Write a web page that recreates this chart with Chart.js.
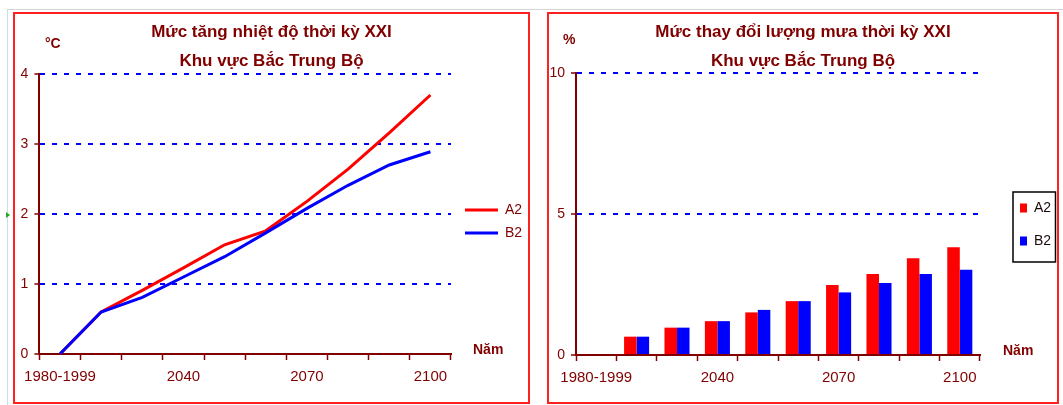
<!DOCTYPE html>
<html>
<head>
<meta charset="utf-8">
<title>Bắc Trung Bộ – nhiệt độ và lượng mưa</title>
<script src="https://cdn.jsdelivr.net/npm/chart.js@4.4.1/dist/chart.umd.min.js"></script>
<style>
  html, body { margin: 0; padding: 0; background: #fff; }
  body { width: 1063px; height: 405px; position: relative; overflow: hidden;
         font-family: 'Liberation Sans Narrow', 'Arial Narrow', 'Liberation Sans', Arial, sans-serif; }
  .frame { position: absolute; left: 7px; top: 9px; width: 1056px; height: 396px;
           border-top: 1px solid #d4d4d4; border-left: 1px solid #c4e4e4; }
  .panel { position: absolute; top: 12px; height: 388px; border: 2px solid #ff2020; background: #fff; }
  #p1 { left: 13px; width: 513px; }
  #p2 { left: 547px; width: 508px; }
  .panel canvas { position: absolute; left: 0; top: 0; }
  .lbl { position: absolute; color: #800000; font-weight: bold; white-space: nowrap; line-height: 1; font-size: 14px; }
  .mark { position: absolute; left: 6px; top: 212px; width: 0; height: 0;
          border-left: 4px solid #22aa22; border-top: 3px solid transparent; border-bottom: 3px solid transparent; }
</style>
</head>
<body>
<div class="frame"></div>
<div class="mark"></div>
<div class="panel" id="p1"><canvas id="tempChart" width="513" height="388"></canvas></div>
<div class="panel" id="p2"><canvas id="rainChart" width="508" height="388"></canvas></div>
<span class="lbl" style="left:45px;top:36px;">°C</span>
<span class="lbl" style="left:563px;top:32px;">%</span>
<span class="lbl" style="left:473px;top:342px;">Năm</span>
<span class="lbl" style="left:1003px;top:343px;">Năm</span>

<script>
// Decades of the scenario period (first one is the 1980-1999 baseline)
const years = ['1980-1999', '2020', '2030', '2040', '2050', '2060', '2070', '2080', '2090', '2100'];
const shownYears = ['1980-1999', '2040', '2070', '2100'];
const seriesNames = ['A2', 'B2'];

// Temperature rise (°C)
const tempA2 = [0, 0.6, 0.91, 1.23, 1.56, 1.76, 2.18, 2.64, 3.16, 3.7];
const tempB2 = [0, 0.6, 0.81, 1.1, 1.39, 1.73, 2.08, 2.41, 2.7, 2.89];

// Rainfall change (%)
const rainA2 = [0, 0.65, 0.97, 1.2, 1.51, 1.91, 2.48, 2.87, 3.43, 3.82];
const rainB2 = [0, 0.65, 0.97, 1.2, 1.6, 1.91, 2.22, 2.55, 2.87, 3.02];

const tempMax = 4, tempStep = 1;
const rainMax = 10, rainStep = 5;

const FONT = "'Liberation Sans Narrow', 'Arial Narrow', 'Liberation Sans', Arial, sans-serif";
const DARK = '#800000';
const RED = '#ff0000';
const BLUE = '#0000ff';

function xAxis(height) {
  return {
    type: 'category',
    offset: true,
    grid: { offset: true, drawOnChartArea: false, drawTicks: true, tickLength: 6,
            color: DARK, tickColor: DARK, tickWidth: 1.5 },
    border: { display: true, color: DARK, width: 2 },
    ticks: {
      autoSkip: false, maxRotation: 0, minRotation: 0, padding: 8,
      color: DARK, font: { family: FONT, size: 15 },
      callback(value) {
        const lab = this.getLabelForValue(value);
        return shownYears.includes(lab) ? lab : '';
      }
    },
    afterFit(s) { s.height = height; }
  };
}

function yAxis(max, step, width) {
  return {
    min: 0, max: max,
    ticks: { stepSize: step, color: DARK, padding: 6, font: { family: FONT, size: 14 } },
    grid: {
      color: c => (c.tick && c.tick.value === 0) ? 'rgba(0,0,0,0)' : BLUE,
      lineWidth: 2, drawTicks: true, tickLength: 5, tickColor: DARK, tickWidth: 1.5
    },
    border: { display: true, color: DARK, width: 2, dash: [5, 7] },
    afterFit(s) { s.width = width; }
  };
}

// empty right-hand scale that keeps a gap between the plot and the legend
function gapAxis(width) {
  return {
    type: 'linear', position: 'right', display: true,
    grid: { display: false, drawTicks: false }, border: { display: false },
    ticks: { display: false },
    afterFit(s) { s.width = width; }
  };
}

function titleOpts(lines, bottomPad) {
  return {
    display: true, text: lines, color: DARK,
    font: { family: FONT, size: 17, weight: 'bold', lineHeight: '29px' },
    padding: { top: 4, bottom: bottomPad }
  };
}

// frame drawn around the legend entries
const legendFrame = {
  id: 'legendFrame',
  afterDraw(chart) {
    const hb = chart.legend && chart.legend.legendHitBoxes;
    if (!hb || hb.length < 2) return;
    const ctx = chart.ctx;
    const left = hb[0].left - 7;
    const top = hb[0].top - 9;
    const right = chart.width - 1.5;
    const bottom = hb[hb.length - 1].top + hb[hb.length - 1].height + 14;
    ctx.save();
    ctx.strokeStyle = '#000';
    ctx.lineWidth = 1.5;
    ctx.strokeRect(left, top, right - left, bottom - top);
    ctx.restore();
  }
};

new Chart(document.getElementById('tempChart'), {
  type: 'line',
  data: {
    labels: years,
    datasets: [
      { label: seriesNames[0], data: tempA2, borderColor: RED, backgroundColor: RED,
        borderWidth: 3, pointRadius: 0, tension: 0, order: 2, xAxisID: 'x', yAxisID: 'y' },
      { label: seriesNames[1], data: tempB2, borderColor: BLUE, backgroundColor: BLUE,
        borderWidth: 3, pointRadius: 0, tension: 0, order: 1, xAxisID: 'x', yAxisID: 'y' }
    ]
  },
  options: {
    responsive: false, animation: false,
    layout: { padding: 0 },
    scales: { x: xAxis(48), y: yAxis(tempMax, tempStep, 22), gap: gapAxis(5) },
    plugins: {
      title: titleOpts(['Mức tăng nhiệt độ thời kỳ XXI', 'Khu vực Bắc Trung Bộ'], -2),
      tooltip: { enabled: false },
      legend: {
        position: 'right', fullSize: false, align: 'center', maxWidth: 72,
        title: { display: true, text: '', padding: 0, font: { size: 10, lineHeight: '15px' } },
        labels: {
          boxWidth: 33, boxHeight: 3, padding: 9, color: DARK,
          font: { family: FONT, size: 14 },
          sort: (a, b) => a.datasetIndex - b.datasetIndex,
          generateLabels(chart) {
            return Chart.defaults.plugins.legend.labels.generateLabels(chart)
              .map(l => Object.assign(l, { fillStyle: l.strokeStyle, lineWidth: 0 }));
          }
        }
      }
    }
  }
});

new Chart(document.getElementById('rainChart'), {
  type: 'bar',
  data: {
    labels: years,
    datasets: [
      { label: seriesNames[0], data: rainA2, backgroundColor: RED, borderWidth: 0, xAxisID: 'x', yAxisID: 'y' },
      { label: seriesNames[1], data: rainB2, backgroundColor: BLUE, borderWidth: 0, xAxisID: 'x', yAxisID: 'y' }
    ]
  },
  options: {
    responsive: false, animation: false,
    layout: { padding: 0 },
    categoryPercentage: 0.62, barPercentage: 1,
    scales: { x: xAxis(47), y: yAxis(rainMax, rainStep, 27), gap: gapAxis(21) },
    plugins: {
      title: titleOpts(['Mức thay đổi lượng mưa thời kỳ XXI', 'Khu vực Bắc Trung Bộ'], -3),
      tooltip: { enabled: false },
      legend: {
        position: 'right', fullSize: false, align: 'center', maxWidth: 56,
        title: { display: true, text: '', padding: 0, font: { size: 10, lineHeight: '21px' } },
        labels: {
          boxWidth: 7, boxHeight: 9, padding: 19, color: '#1a0a0a',
          font: { family: FONT, size: 14 }
        }
      }
    }
  },
  plugins: [legendFrame]
});
</script>
</body>
</html>
